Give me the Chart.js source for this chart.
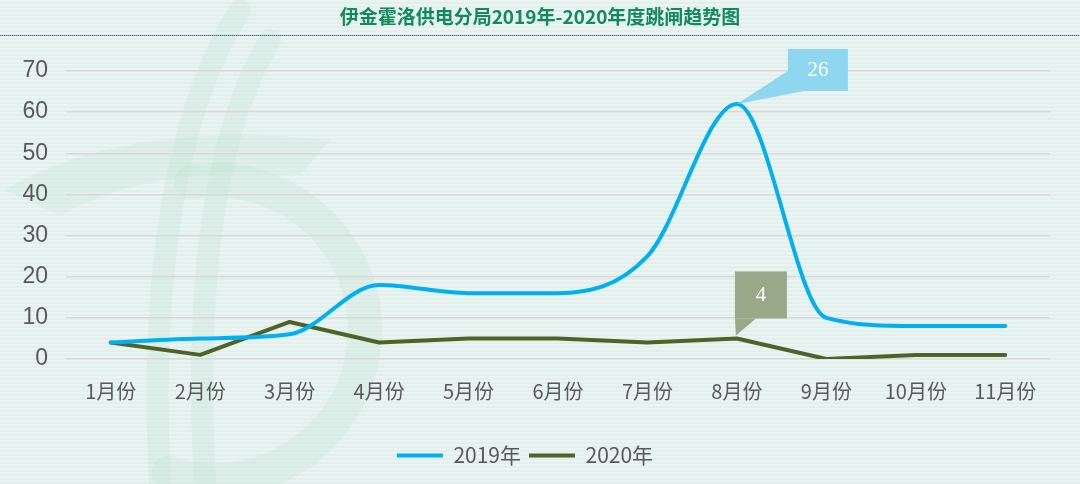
<!DOCTYPE html>
<html><head><meta charset="utf-8">
<script src="https://cdn.jsdelivr.net/npm/chart.js@4/dist/chart.umd.min.js"></script>
<style>
html,body{margin:0;padding:0;width:1080px;height:484px;overflow:hidden;
background:repeating-linear-gradient(180deg,#eaf4f2 0px,#eaf4f2 2px,#e3efed 2px,#e3efed 4px);}
#wrap{position:relative;width:1080px;height:484px;}
</style></head>
<body><div id="wrap"><canvas id="c" width="1080" height="484"></canvas></div>
<script>
const titleText = '伊金霍洛供电分局2019年-2020年度跳闸趋势图';
const categories = ['1月份','2月份','3月份','4月份','5月份','6月份','7月份','8月份','9月份','10月份','11月份'];
const series2019 = [4, 5, 6, 18, 16, 16, 25, 62, 10, 8, 8];
const series2020 = [4, 1, 9, 4, 5, 5, 4, 5, 0, 1, 1];
const seriesNames = ['2019年', '2020年'];
const yTicks = [0, 10, 20, 30, 40, 50, 60, 70];
const callouts = [
  {dataset: 0, index: 7, text: '26'},
  {dataset: 1, index: 7, text: '4'}
];

const bgPlugin = {
  id: 'bg',
  beforeDraw(chart) {
    const ctx = chart.ctx;
    ctx.save();
    // watermark
    ctx.strokeStyle = 'rgba(175,222,200,0.2)';
    ctx.lineCap = 'round';
    ctx.lineWidth = 34;
    ctx.beginPath();
    ctx.arc(215, 330, 150, -Math.PI * 0.55, Math.PI * 0.6);
    ctx.stroke();
    ctx.lineWidth = 22;
    ctx.beginPath();
    ctx.moveTo(160, 484); ctx.bezierCurveTo(150, 300, 170, 120, 240, 10);
    ctx.stroke();
    ctx.beginPath();
    ctx.moveTo(205, 484); ctx.bezierCurveTo(195, 300, 210, 140, 270, 40);
    ctx.stroke();
    ctx.fillStyle = 'rgba(175,222,200,0.18)';
    ctx.beginPath();
    ctx.moveTo(5, 190); ctx.quadraticCurveTo(120, 120, 330, 140);
    ctx.lineTo(300, 175); ctx.quadraticCurveTo(150, 165, 60, 215); ctx.closePath();
    ctx.fill();
    // title
    ctx.fillStyle = '#118a5c';
    ctx.font = 'bold 19px "Noto Sans CJK SC"';
    ctx.textAlign = 'center';
    ctx.textBaseline = 'middle';
    ctx.fillText(titleText, 540, 17);
    // dotted rule
    ctx.strokeStyle = '#5a7394';
    ctx.lineWidth = 1;
    ctx.setLineDash([1, 1]);
    ctx.beginPath();
    ctx.moveTo(0, 35.5); ctx.lineTo(1080, 35.5);
    ctx.stroke();
    ctx.restore();
  }
};

const calloutPlugin = {
  id: 'callouts',
  afterDatasetsDraw(chart) {
    const ctx = chart.ctx;
    ctx.save();
    callouts.forEach(c => {
      const el = chart.getDatasetMeta(c.dataset).data[c.index];
      const x = el.x, y = el.y;
      let bx, by, bw, bh, fill, tri;
      if (c.dataset === 0) {
        bx = x + 51; by = y - 55; bw = 60; bh = 42; fill = '#8fd6f1';
        tri = [[x, y], [bx, by + 22], [bx + 16, by + bh]];
      } else {
        bx = x - 2; by = y - 67; bw = 52; bh = 47; fill = '#9aa88a';
        tri = [[x - 1, y - 3], [bx, by + bh], [bx + 21, by + bh]];
      }
      ctx.fillStyle = fill;
      ctx.beginPath();
      ctx.moveTo(tri[0][0], tri[0][1]); ctx.lineTo(tri[1][0], tri[1][1]); ctx.lineTo(tri[2][0], tri[2][1]);
      ctx.closePath(); ctx.fill();
      ctx.fillRect(bx, by, bw, bh);
      ctx.fillStyle = '#ffffff';
      ctx.font = '21px "Liberation Serif"';
      ctx.textAlign = 'center';
      ctx.textBaseline = 'middle';
      ctx.fillText(c.text, bx + bw / 2, by + bh / 2 + 1);
    });
    ctx.restore();
  }
};

new Chart(document.getElementById('c'), {
  type: 'line',
  data: {
    labels: categories,
    datasets: [
      {label: seriesNames[0], data: series2019, borderColor: '#00b0f0', backgroundColor: '#00b0f0',
       borderWidth: 4, pointRadius: 0, cubicInterpolationMode: 'monotone', borderCapStyle: 'round'},
      {label: seriesNames[1], data: series2020, borderColor: '#4f6228', backgroundColor: '#4f6228',
       borderWidth: 4, pointRadius: 0, tension: 0, borderCapStyle: 'round', borderJoinStyle: 'round'}
    ]
  },
  options: {
    responsive: false,
    animation: false,
    layout: {padding: {top: 71, right: 30, left: 0, bottom: 8}},
    plugins: {
      title: {display: false},
      tooltip: {enabled: false},
      legend: {
        position: 'bottom',
        labels: {
          color: '#595959',
          font: {size: 21, family: '"Noto Sans CJK SC"'},
          boxWidth: 46, boxHeight: 4, padding: 8,
          generateLabels(chart) {
            return chart.data.datasets.map((d, i) => ({
              text: d.label, fillStyle: d.borderColor, strokeStyle: d.borderColor,
              lineWidth: 0, fontColor: '#595959', datasetIndex: i, hidden: false
            }));
          }
        }
      }
    },
    scales: {
      x: {
        offset: true,
        grid: {display: false},
        border: {display: false},
        ticks: {color: '#595959', font: {size: 20, family: '"Noto Sans CJK SC"'}, padding: 12, maxRotation: 0, autoSkip: false},
        afterFit(s) { s.height = 78; }
      },
      y: {
        min: 0, max: 70,
        afterBuildTicks(s) { s.ticks = yTicks.map(v => ({value: v})); },
        grid: {color: '#d9d9d9', lineWidth: 1.5, drawTicks: false},
        border: {display: false},
        ticks: {color: '#595959', font: {size: 23, family: '"Liberation Sans"'}, padding: 18},
        afterFit(s) { s.width = 66; }
      }
    }
  },
  plugins: [bgPlugin, calloutPlugin]
});
</script>
</body></html>
